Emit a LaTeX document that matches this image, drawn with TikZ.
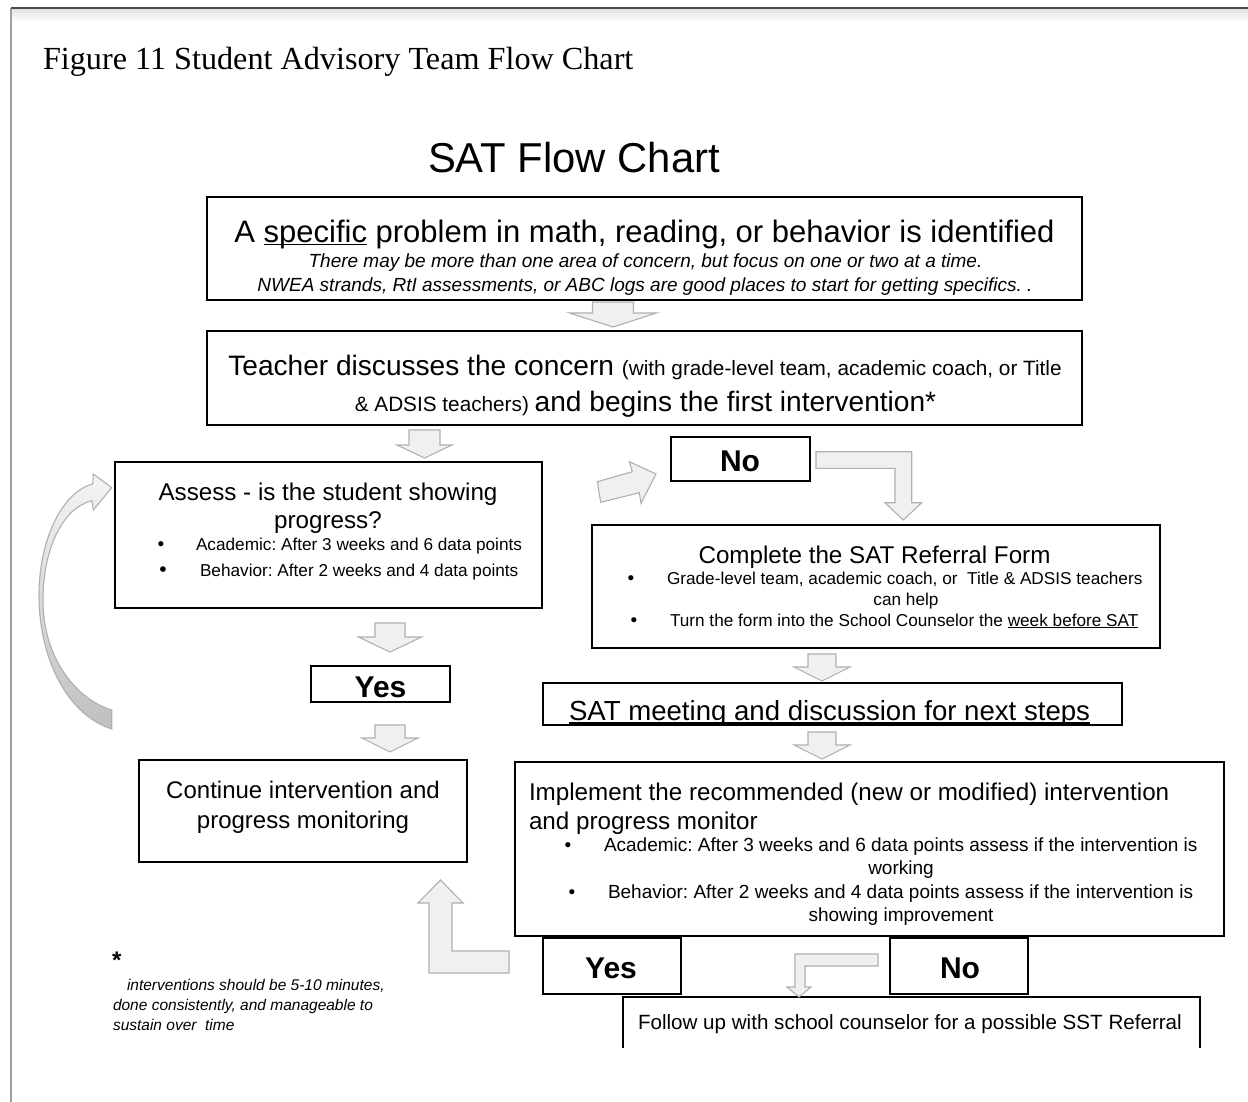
\documentclass[tikz,border=0pt]{standalone}
\usepackage{fontspec}
\setmainfont{Liberation Sans}
\newfontfamily\capfont{Liberation Serif}
\newcommand\fs[1]{\fontsize{#1}{#1}\selectfont}
\frenchspacing
\tikzset{
  box/.style={draw=black, line width=2.4pt, inner sep=0pt, outer sep=0pt},
  txt/.style={inner sep=0pt, outer sep=0pt, anchor=base},
  txtl/.style={inner sep=0pt, outer sep=0pt, anchor=base west},
  blockarrow/.style={draw=gray!62, line width=1.1pt, fill=gray!12, line join=miter},
  frameline/.style={draw=gray!75, line width=1.4pt},
}
% straight block arrow pointing down: centre x, top, head base, tip, shaft half width, head half width
\newcommand\downblock[6]{%
  \draw[blockarrow] ({#1-#5},#2) -- ({#1+#5},#2) -- ({#1+#5},#3) -- ({#1+#6},#3)
    -- (#1,#4) -- ({#1-#6},#3) -- ({#1-#5},#3) -- cycle;}
\begin{document}
\begin{tikzpicture}[x=1pt, y=-1pt]
\useasboundingbox (0,0) rectangle (1248,1102);
\fill[white] (0,0) rectangle (1248,1102);

% page frame with a soft shadow under the top edge
\shade[top color=gray!22, bottom color=white] (11,9) rectangle (1248,22);
\draw[frameline] (11,1102) -- (11,8);
\draw[draw=black!70, line width=1.4pt] (11,8) -- (1248,8);

% caption and heading
\node[txtl] (caption) at (43,70) {\capfont\fs{32.2}Figure 11 Student Advisory Team Flow Chart};
\node[txtl] (heading) at (428,173) {\fs{41.8}SAT Flow Chart};

% boxes
\node[box, minimum width=875pt, minimum height=103pt] (boxA) at (644.5,248.5) {};
\node[box, minimum width=875pt, minimum height=94pt] (boxB) at (644.5,378) {};
\node[box, minimum width=427pt, minimum height=146pt] (assess) at (328.5,535) {};
\node[box, minimum width=139pt, minimum height=44pt] (noA) at (740.5,459) {};
\node[box, minimum width=568pt, minimum height=123pt] (refer) at (876,586.5) {};
\node[box, minimum width=579pt, minimum height=42pt] (meet) at (832.5,704) {};
\node[box, minimum width=139pt, minimum height=36pt] (yesA) at (380.5,684) {};
\node[box, minimum width=328pt, minimum height=102pt] (cont) at (303,811) {};
\node[box, minimum width=709pt, minimum height=174pt] (impl) at (869.5,849) {};
\node[box, minimum width=138pt, minimum height=56pt] (yesB) at (612,966) {};
\node[box, minimum width=138pt, minimum height=56pt] (noB) at (959,966) {};
\coordinate (fupL) at (623,1048);
\coordinate (fupR) at (1200,1048);
\draw[black, line width=2.4pt] (fupL) |- (1200,997) -- (fupR);

% box texts
\node[txt] (tA1) at (644.5,243) {\fs{31}A \underline{\smash{specific}} problem in math, reading, or behavior is identified};
\node[txt] (tA2) at (645.5,268) {\fs{19}\itshape There may be more than one area of concern, but focus on one or two at a time.};
\node[txt] (tA3) at (645,291) {\fs{19}\itshape NWEA strands, RtI assessments, or ABC logs are good places to start for getting specifics. .};

\node[txt] (tB1) at (645,375) {\fs{28.1}Teacher discusses the concern \fs{20.75}(with grade-level team, academic coach, or Title};
\node[txt] (tB2) at (645.5,411) {\fs{20.75}\& ADSIS teachers) \fs{28.1}and begins the first intervention*};

\node[txt] (tS1) at (328,500) {\fs{24.2}Assess - is the student showing};
\node[txt] (tS2) at (328,528) {\fs{24.2}progress?};
\node[txt] (bS1) at (161,550) {\fs{19}•};
\node[txtl] (tS3) at (196,550) {\fs{17.2}Academic: After 3 weeks and 6 data points};
\node[txt] (bS2) at (163,576) {\fs{21}•};
\node[txtl] (tS4) at (200,576) {\fs{17.2}Behavior: After 2 weeks and 4 data points};

\node[txt] (tNoA) at (740,471) {\fs{30}\bfseries No};

\node[txt] (tR1) at (874.5,563) {\fs{24.2}Complete the SAT Referral Form};
\node[txt] (bR1) at (631,584) {\fs{19}•};
\node[txtl] (tR2) at (667,584) {\fs{17.2}Grade-level team, academic coach, or\ \ Title \& ADSIS teachers};
\node[txt] (tR3) at (906,605) {\fs{17.2}can help};
\node[txt] (bR2) at (634,626) {\fs{19}•};
\node[txtl] (tR4) at (670,626) {\fs{17.2}Turn the form into the School Counselor the \underline{week before SAT}};

\node[txtl] (tM) at (569,720) {\fs{27.6}SAT meeting and discussion for next steps};
\draw[black, line width=1.3pt] ([yshift=-3pt]tM.base west) -- ([yshift=-3pt]tM.base east);

\node[txt] (tYesA) at (380.5,697) {\fs{30}\bfseries Yes};

\node[txt] (tC1) at (303,798) {\fs{24}Continue intervention and};
\node[txt] (tC2) at (303,828) {\fs{24}progress monitoring};

\node[txtl] (tI1) at (529,800) {\fs{24.2}Implement the recommended (new or modified) intervention};
\node[txtl] (tI2) at (529,829) {\fs{24.2}and progress monitor};
\node[txt] (bI1) at (568,851) {\fs{19}•};
\node[txtl] (tI3) at (604,851) {\fs{19}Academic: After 3 weeks and 6 data points assess if the intervention is};
\node[txt] (tI4) at (901,874) {\fs{19}working};
\node[txt] (bI2) at (572,898) {\fs{19}•};
\node[txtl] (tI5) at (608,898) {\fs{19}Behavior: After 2 weeks and 4 data points assess if the intervention is};
\node[txt] (tI6) at (901,921) {\fs{19}showing improvement};

\node[txt] (tYesB) at (611,978) {\fs{30}\bfseries Yes};
\node[txt] (tNoB) at (960,978) {\fs{30}\bfseries No};

\node[txtl] (tF) at (638,1029) {\fs{20.6}Follow up with school counselor for a possible SST Referral};

% footnote
\node[txtl] (star) at (112,968) {\fs{24}\bfseries *};
\node[txtl] (n1) at (127,990) {\fs{15.5}\itshape interventions should be 5-10 minutes,};
\node[txtl] (n2) at (113,1010) {\fs{15.5}\itshape done consistently, and manageable to};
\node[txtl] (n3) at (113,1030) {\fs{15.5}\itshape sustain over\ \ time};

% block arrows between the steps
\downblock{613}{302}{313}{327}{20.5}{43.5}
\downblock{424.5}{430}{445}{458}{15.5}{27.5}
\downblock{390}{623}{637}{652}{15}{31.5}
\downblock{390}{725}{738}{752}{15}{28}
\downblock{822}{654}{667}{681}{14}{28}
\downblock{822}{732}{745}{759}{14}{28}

% tilted arrow towards the first "No"
\draw[blockarrow] (597.3,481.7) -- (632.3,471.7) -- (629.3,461.7) -- (656,474)
  -- (641,503.3) -- (639.3,492.7) -- (600.7,502.3) -- cycle;

% bent arrow from "No" down to the referral form
\draw[blockarrow] (816,451.7) -- (911.7,451.7) -- (911.7,502.7) -- (921.7,502.7)
  -- (903.3,520) -- (885,502.7) -- (895,502.7) -- (895,468.3) -- (816,468.3) -- cycle;

% bent arrow from the second "No" to the follow-up box
\draw[blockarrow] (878,954) -- (878,966) -- (805,966) -- (805,987) -- (811,987)
  -- (799,997) -- (787,987) -- (795,987) -- (795,954) -- cycle;

% L-shaped arrow from "Yes" up to "Continue"
\draw[blockarrow] (440.5,880) -- (463,903) -- (452,903) -- (452,951) -- (509,951)
  -- (509,973) -- (429,973) -- (429,903) -- (418,903) -- cycle;

% curved loop arrow back to the assessment
\draw[draw=gray!62, line width=1.1pt, top color=gray!8, bottom color=gray!50]
  (111.7,487.7) -- (93.3,474) -- (92.7,484)
  .. controls (62,492) and (39,540) .. (39,595)
  .. controls (39,660) and (68,715) .. (111.7,729)
  -- (111.7,710)
  .. controls (78,700) and (43,660) .. (43,600)
  .. controls (43,550) and (62,508) .. (92,500.7)
  -- (93.3,510) -- cycle;
\end{tikzpicture}
\end{document}
